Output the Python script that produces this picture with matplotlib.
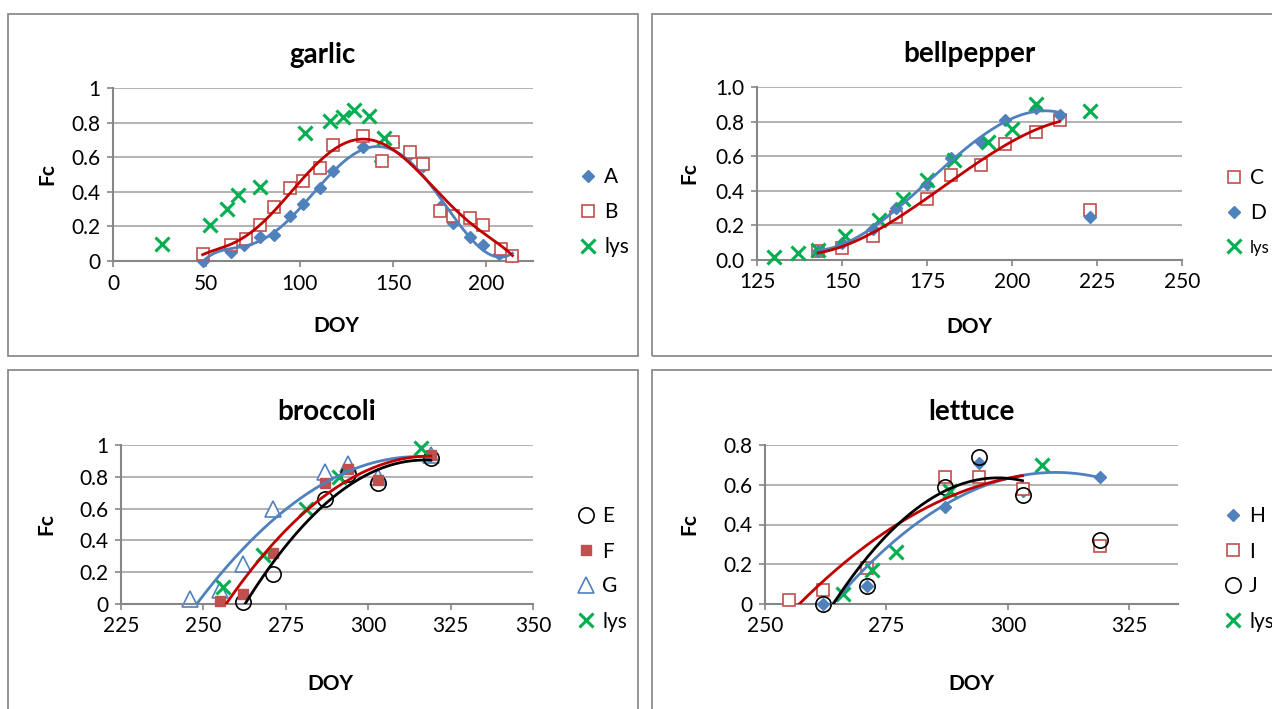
import numpy as np
import matplotlib
matplotlib.use("Agg")
import matplotlib.pyplot as plt
from matplotlib.patches import Rectangle

plt.rcParams['font.family'] = ['Lato', 'DejaVu Sans']

# --- garlic ---
garlic_a_doy = [48, 63, 70, 79, 86, 95, 102, 111, 118, 134, 143, 150, 159, 166, 175, 182, 191, 198, 207, 214]
garlic_a_fc = [0.0, 0.05, 0.09, 0.14, 0.15, 0.26, 0.33, 0.42, 0.52, 0.66, 0.58, 0.68, 0.62, 0.55, 0.31, 0.22, 0.14, 0.09, 0.04, 0.03]
garlic_b_doy = [48, 63, 71, 79, 86, 95, 102, 111, 118, 134, 144, 150, 159, 166, 175, 182, 191, 198, 208, 214]
garlic_b_fc = [0.04, 0.09, 0.13, 0.21, 0.31, 0.42, 0.46, 0.54, 0.67, 0.72, 0.58, 0.69, 0.63, 0.56, 0.29, 0.26, 0.25, 0.21, 0.07, 0.03]
garlic_lys_doy = [26, 52, 61, 67, 79, 103, 116, 123, 129, 137, 145]
garlic_lys_fc = [0.10, 0.21, 0.30, 0.38, 0.43, 0.74, 0.81, 0.83, 0.87, 0.84, 0.71]

# --- bellpepper ---
bell_c_doy = [143, 150, 159, 166, 175, 182, 191, 198, 207, 214, 223]
bell_c_fc = [0.05, 0.07, 0.14, 0.25, 0.35, 0.49, 0.55, 0.67, 0.74, 0.81, 0.29]
bell_d_doy = [143, 150, 159, 166, 175, 182, 191, 198, 207, 214, 223]
bell_d_fc = [0.05, 0.10, 0.18, 0.30, 0.44, 0.59, 0.68, 0.81, 0.88, 0.84, 0.25]
bell_lys_doy = [130, 137, 143, 151, 161, 168, 175, 183, 193, 200, 207, 223]
bell_lys_fc = [0.02, 0.04, 0.06, 0.14, 0.23, 0.35, 0.46, 0.58, 0.68, 0.76, 0.90, 0.86]
bell_fit_max = 214

# --- broccoli ---
broc_e_doy = [262, 271, 287, 294, 303, 319]
broc_e_fc = [0.01, 0.19, 0.66, 0.82, 0.76, 0.92]
broc_f_doy = [255, 262, 271, 287, 294, 303, 319]
broc_f_fc = [0.02, 0.06, 0.32, 0.76, 0.85, 0.78, 0.94]
broc_g_doy = [246, 255, 262, 271, 287, 294, 303, 319]
broc_g_fc = [0.03, 0.09, 0.25, 0.60, 0.83, 0.88, 0.80, 0.94]
broc_lys_doy = [256, 268, 281, 291, 316]
broc_lys_fc = [0.11, 0.31, 0.60, 0.80, 0.98]

# --- lettuce ---
let_h_doy = [262, 271, 287, 294, 303, 319]
let_h_fc = [0.0, 0.09, 0.49, 0.71, 0.57, 0.64]
let_i_doy = [255, 262, 271, 287, 294, 303, 319]
let_i_fc = [0.02, 0.07, 0.18, 0.64, 0.64, 0.58, 0.29]
let_j_doy = [262, 271, 287, 294, 303, 319]
let_j_fc = [0.0, 0.09, 0.59, 0.74, 0.55, 0.32]
let_lys_doy = [266, 272, 277, 288, 307]
let_lys_fc = [0.05, 0.17, 0.26, 0.57, 0.70]
let_fit_max = 303

BLUE = '#4F81BD'
RED = '#C0504D'
DARKRED = '#C00000'
GREEN = '#00B050'
GRID = '#a6a6a6'
SPINE = '#868686'

W, H = 1272, 709
fig = plt.figure(figsize=(W / 100, H / 100), dpi=100)


def px_axes(l, t, r, b):
    return fig.add_axes([l / W, 1 - b / H, (r - l) / W, (b - t) / H])


def trend(ax, x, y, deg, color, xmax=None):
    x = np.asarray(x, float)
    y = np.asarray(y, float)
    if xmax is not None:
        keep = x <= xmax
        x, y = x[keep], y[keep]
    p = np.polynomial.Polynomial.fit(x, y, deg)
    xs = np.linspace(x.min(), x.max(), 200)
    ax.plot(xs, p(xs), color=color, lw=2.0, zorder=4)


def style(ax, title, xlim, xticks, ylim, yticks, yfmt, ylab_x, xlab_y, xlab_x=0.5):
    ax.set_xlim(*xlim)
    ax.set_ylim(*ylim)
    ax.set_xticks(xticks)
    ax.set_yticks(yticks)
    ax.set_yticklabels([yfmt(v) for v in yticks])
    ax.grid(axis='y', color=GRID, lw=1.2)
    ax.set_axisbelow(True)
    for s in ('top', 'right'):
        ax.spines[s].set_visible(False)
    for s in ('left', 'bottom'):
        ax.spines[s].set_color(SPINE)
        ax.spines[s].set_linewidth(1.5)
    ax.tick_params(direction='out', length=4, width=1.2, color=SPINE,
                   labelsize=15, pad=5)
    ax.set_title(title, fontsize=20, fontweight='bold', pad=18)
    ax.set_ylabel('Fc', fontsize=15, fontweight='bold')
    ax.set_xlabel('DOY', fontsize=15, fontweight='bold')
    ax.yaxis.set_label_coords(ylab_x, 0.5)
    ax.xaxis.set_label_coords(xlab_x, xlab_y)


def legend(ax, handles, labels, x, y, small_last=False):
    leg = ax.legend(handles, labels, loc='center left', bbox_to_anchor=(x / W, 1 - y / H),
                    bbox_transform=fig.transFigure, frameon=False, fontsize=15,
                    labelspacing=0.72, handletextpad=0.25, handlelength=1.0,
                    borderpad=0, borderaxespad=0)
    if small_last:
        leg.get_texts()[-1].set_fontsize(12)
    return leg


def gen(v):
    return '%g' % v


def one(v):
    return '%.1f' % v


# panel frames
frame_kw = dict(transform=fig.transFigure, fill=False, edgecolor='#8c8c8c', lw=1.3)
fig.add_artist(Rectangle((8 / W, 1 - 356 / H), 630 / W, 342 / H, **frame_kw))
fig.add_artist(Rectangle((652 / W, 1 - 356 / H), 640 / W, 342 / H, **frame_kw))
fig.add_artist(Rectangle((8 / W, 1 - 730 / H), 630 / W, 360 / H, **frame_kw))
fig.add_artist(Rectangle((652 / W, 1 - 730 / H), 640 / W, 360 / H, **frame_kw))

# markers sitting on the axis are drawn whole, not clipped
diam = dict(marker='D', ms=6.5, color=BLUE, ls='none', zorder=3, clip_on=False)
sq = dict(marker='s', ms=9, mfc='white', mec=RED, mew=1.2, ls='none', zorder=3, clip_on=False)
xm = dict(marker='x', ms=10, color=GREEN, mew=2.2, ls='none', zorder=3, clip_on=False)
circ = dict(marker='o', ms=11, mfc='none', mec='black', mew=1.2, ls='none', zorder=3, clip_on=False)
tri = dict(marker='^', ms=12, mfc='white', mec=BLUE, mew=1.2, ls='none', zorder=2, clip_on=False)
fsq = dict(marker='s', ms=7, color=RED, ls='none', zorder=3, clip_on=False)

# garlic
ax = px_axes(113, 88, 533, 261)
ha, = ax.plot(garlic_a_doy, garlic_a_fc, **diam)
hb, = ax.plot(garlic_b_doy, garlic_b_fc, **sq)
hl, = ax.plot(garlic_lys_doy, garlic_lys_fc, **xm)
trend(ax, garlic_a_doy, garlic_a_fc, 6, BLUE)
trend(ax, garlic_b_doy, garlic_b_fc, 6, DARKRED)
style(ax, 'garlic', (0, 225), [0, 50, 100, 150, 200], (0, 1),
      [0, 0.2, 0.4, 0.6, 0.8, 1], gen, -0.133, -0.32, 0.533)
legend(ax, [ha, hb, hl], ['A', 'B', 'lys'], 578, 212)

# bellpepper
ax = px_axes(757, 87, 1182, 260)
hc, = ax.plot(bell_c_doy, bell_c_fc, **sq)
hd, = ax.plot(bell_d_doy, bell_d_fc, **diam)
hl, = ax.plot(bell_lys_doy, bell_lys_fc, **xm)
trend(ax, bell_d_doy, bell_d_fc, 3, BLUE, bell_fit_max)
trend(ax, bell_c_doy, bell_c_fc, 3, DARKRED, bell_fit_max)
style(ax, 'bellpepper', (125, 250), [125, 150, 175, 200, 225, 250], (0, 1),
      [0, 0.2, 0.4, 0.6, 0.8, 1.0], one, -0.135, -0.33)
legend(ax, [hc, hd, hl], ['C', 'D', 'lys'], 1224, 212, small_last=True)

# broccoli
ax = px_axes(121, 445, 533, 604)
he, = ax.plot(broc_e_doy, broc_e_fc, **circ)
hf, = ax.plot(broc_f_doy, broc_f_fc, **fsq)
hg, = ax.plot(broc_g_doy, broc_g_fc, **tri)
hl, = ax.plot(broc_lys_doy, broc_lys_fc, **xm)
trend(ax, broc_g_doy, broc_g_fc, 2, BLUE)
trend(ax, broc_f_doy, broc_f_fc, 2, DARKRED)
trend(ax, broc_e_doy, broc_e_fc, 2, 'black')
style(ax, 'broccoli', (225, 350), [225, 250, 275, 300, 325, 350], (0, 1),
      [0, 0.2, 0.4, 0.6, 0.8, 1], gen, -0.158, -0.44, 0.507)
legend(ax, [he, hf, hg, hl], ['E', 'F', 'G', 'lys'], 576, 569)

# lettuce
ax = px_axes(765, 445, 1178, 604)
hh, = ax.plot(let_h_doy, let_h_fc, **diam)
hi, = ax.plot(let_i_doy, let_i_fc, **sq)
hj, = ax.plot(let_j_doy, let_j_fc, **circ)
hl, = ax.plot(let_lys_doy, let_lys_fc, **xm)
trend(ax, let_h_doy, let_h_fc, 2, BLUE)
trend(ax, let_i_doy, let_i_fc, 2, DARKRED, let_fit_max)
trend(ax, let_j_doy, let_j_fc, 2, 'black', let_fit_max)
style(ax, 'lettuce', (250, 335), [250, 275, 300, 325], (0, 0.8),
      [0, 0.2, 0.4, 0.6, 0.8], gen, -0.158, -0.44)
legend(ax, [hh, hi, hj, hl], ['H', 'I', 'J', 'lys'], 1223, 569)

fig.savefig('out.png', dpi=100)
